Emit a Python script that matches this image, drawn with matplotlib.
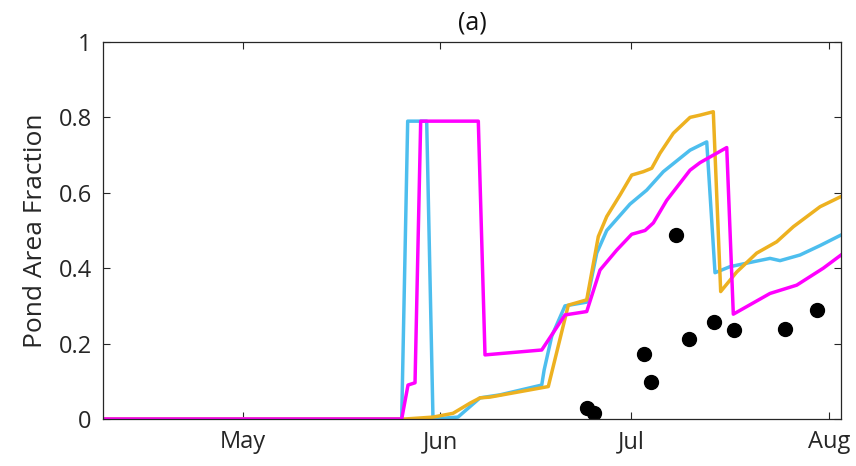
import matplotlib
matplotlib.use('agg')
import matplotlib.pyplot as plt

plt.rcParams['font.family'] = ['Open Sans', 'DejaVu Sans']

# day of year (non-leap year) and pond area fraction
cyan_day = [99, 145.95, 146.89, 149.87, 150.86, 154.78, 158.24, 161.37, 167.92,
            168.3, 169.5, 171.57, 174.98, 176.55, 178.12, 181.77, 184.39, 187.0,
            191.19, 193.81, 195.11, 197.46, 201.12, 203.74, 205.31, 208.45,
            211.59, 214.88]
cyan_val = [0, 0, 0.79, 0.79, 0.0, 0.005, 0.056, 0.064, 0.09,
            0.13, 0.22, 0.30, 0.31, 0.44, 0.50, 0.57, 0.607, 0.656,
            0.713, 0.735, 0.388, 0.404, 0.417, 0.426, 0.42, 0.435,
            0.46, 0.488]

orange_day = [99, 146.5, 150.86, 154.0, 156.67, 158.24, 159.8, 168.95, 172.09,
              174.98, 176.8, 178.12, 180.2, 182.04, 183.86, 185.18, 186.48,
              188.57, 191.19, 192.76, 194.84, 196.0, 198.52, 201.65, 204.79,
              207.4, 211.59, 214.88]
orange_val = [0, 0, 0.005, 0.015, 0.042, 0.056, 0.058, 0.086, 0.302,
              0.316, 0.484, 0.537, 0.594, 0.647, 0.656, 0.665, 0.705,
              0.758, 0.80, 0.806, 0.815, 0.338, 0.39, 0.44, 0.47,
              0.51, 0.563, 0.59]

magenta_day = [99, 145.95, 146.94, 148.04, 148.93, 157.97, 159.02, 167.92,
               171.57, 174.98, 177.06, 179.69, 182.04, 184.13, 185.43, 187.53,
               191.19, 192.76, 196.95, 197.98, 203.74, 207.93, 212.1, 214.88]
magenta_val = [0, 0, 0.09, 0.096, 0.79, 0.79, 0.17, 0.183,
               0.276, 0.285, 0.395, 0.448, 0.49, 0.50, 0.52, 0.58,
               0.66, 0.68, 0.72, 0.278, 0.333, 0.355, 0.40, 0.435]

obs_day = [174.98, 176.12, 183.97, 185.02, 188.99, 191.08, 195.0, 198.09,
           206.09, 211.07]
obs_val = [0.028, 0.017, 0.172, 0.099, 0.488, 0.211, 0.258, 0.236, 0.238, 0.289]

month_days = [121, 152, 182, 213]
month_labels = ['May', 'Jun', 'Jul', 'Aug']

fig = plt.figure(figsize=(8.56, 4.66), dpi=100)
ax = fig.add_axes([0.1203, 0.1009, 0.8622, 0.809])

ax.plot(cyan_day, cyan_val, color='#4DBEEE', lw=2.5)
ax.plot(orange_day, orange_val, color='#EDB120', lw=2.5)
ax.plot(magenta_day, magenta_val, color='#FF00FF', lw=2.5)
ax.plot(obs_day, obs_val, 'o', color='black', ms=10)

ax.set_xlim(99.08, 214.88)
ax.set_ylim(0, 1)
ax.set_xticks(month_days)
ax.set_xticklabels(month_labels)
ax.set_yticks([0, 0.2, 0.4, 0.6, 0.8, 1])
ax.set_yticklabels(['0', '0.2', '0.4', '0.6', '0.8', '1'])
ax.tick_params(direction='in', top=True, right=True, length=5,
               width=0.8, color='#262626', labelsize=17, labelcolor='#262626',
               pad=8)
for s in ax.spines.values():
    s.set_color('#262626')
    s.set_linewidth(0.9)
ax.set_ylabel('Pond Area Fraction', fontsize=19, color='#262626', labelpad=8)
ax.set_title('(a)', fontsize=18, color='#111111', pad=9)

fig.savefig('out.png', dpi=100)
plt.close()
